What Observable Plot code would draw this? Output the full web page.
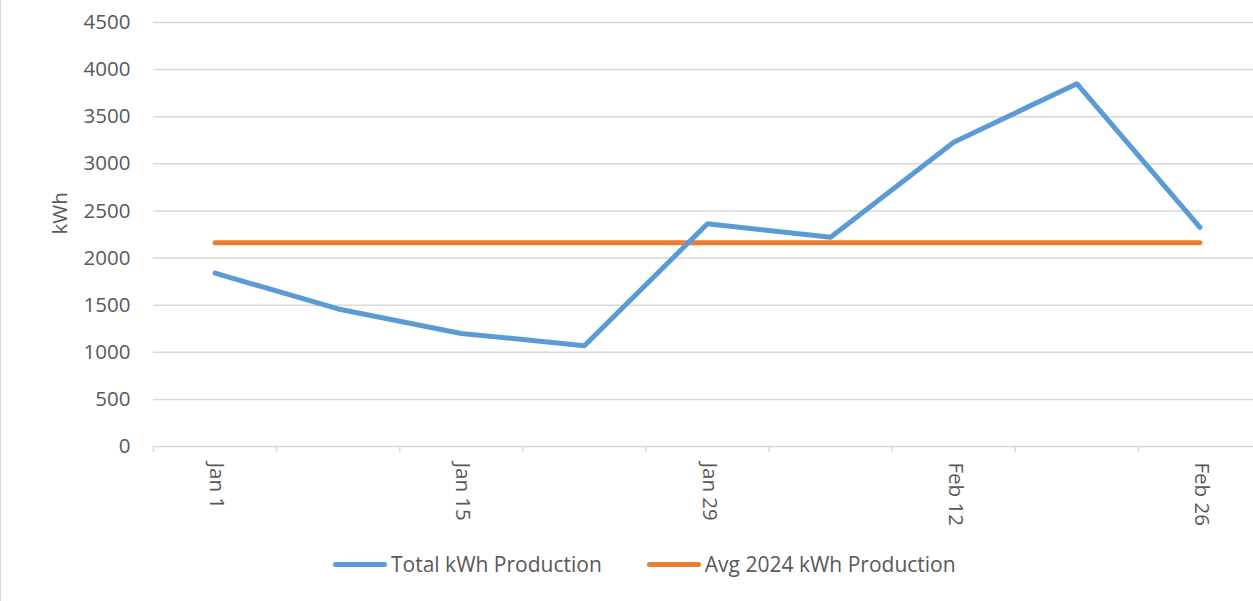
<!DOCTYPE html>
<html>
<head>
<meta charset="utf-8">
<script src="https://cdn.jsdelivr.net/npm/d3@7"></script>
<script src="https://cdn.jsdelivr.net/npm/@observablehq/plot@0.6"></script>
<style>
  html, body { margin: 0; padding: 0; background: #fff; overflow: hidden; width: 1253px; height: 601px; }
  body { position: relative; font-family: "Open Sans", sans-serif; color: #595959; }
  #border { position: absolute; left: 0; top: 0; width: 1px; height: 601px; background: #d9d9d9; }
  #chart { position: absolute; left: 0; top: 0; width: 1261px; }
  #chart svg { max-width: none !important; }
  #legend { position: absolute; left: 333px; top: 550px; display: flex; align-items: center; font-size: 21px; white-space: nowrap; }
  .item { display: flex; align-items: center; }
  .sw { width: 54px; height: 5px; border-radius: 3px; margin-right: 4px; }
</style>
</head>
<body>
<div id="border"></div>
<div id="chart"></div>
<div id="legend"></div>
<script>
const categories = ["Jan 1", "Jan 8", "Jan 15", "Jan 22", "Jan 29", "Feb 5", "Feb 12", "Feb 19", "Feb 26"];
const labelledCategories = ["Jan 1", "Jan 15", "Jan 29", "Feb 12", "Feb 26"];
const totalProduction = [1840, 1460, 1200, 1070, 2365, 2220, 3230, 3850, 2325];
const avg2024Production = [2163, 2163, 2163, 2163, 2163, 2163, 2163, 2163, 2163];
const yTicks = [0, 500, 1000, 1500, 2000, 2500, 3000, 3500, 4000, 4500];
const seriesNames = ["Total kWh Production", "Avg 2024 kWh Production"];
const seriesColors = ["#5B9BD5", "#ED7D31"];

const bounds = d3.range(categories.length + 1).map(i => i - 0.5);
const labelIdx = labelledCategories.map(c => categories.indexOf(c));
const total = totalProduction.map((v, i) => ({i, v}));
const avg = avg2024Production.map((v, i) => ({i, v}));

const chart = Plot.plot({
  width: 1261,
  height: 530,
  marginTop: 22,
  marginBottom: 84,
  marginLeft: 153,
  marginRight: 0,
  style: {fontFamily: "Open Sans, sans-serif", fontSize: "20px", color: "#595959", background: "transparent", maxWidth: "none"},
  x: {type: "linear", domain: [-0.5, categories.length - 0.5], axis: null},
  y: {domain: [0, 4500], axis: null},
  marks: [
    Plot.gridY(yTicks, {stroke: "#d9d9d9", strokeOpacity: 1, strokeWidth: 1.5}),
    Plot.axisY(yTicks, {tickSize: 0, tickPadding: 23, fontSize: 20.5, fill: "#595959", label: null, tickFormat: d => String(d)}),
    Plot.axisX(bounds, {tickSize: 6, tickFormat: () => "", stroke: "#d9d9d9", strokeWidth: 1.5, label: null}),
    Plot.text(labelIdx, {x: d => d, text: d => categories[d], frameAnchor: "bottom", rotate: 90, textAnchor: "start", dx: -5, dy: 16, fontSize: 20.5, fill: "#595959"}),
    Plot.text(["kWh"], {frameAnchor: "left", rotate: -90, dx: -93, fontSize: 20.5, fill: "#595959"}),
    Plot.line(avg, {x: "i", y: "v", stroke: seriesColors[1], strokeWidth: 5, strokeLinecap: "round", strokeLinejoin: "round"}),
    Plot.line(total, {x: "i", y: "v", stroke: seriesColors[0], strokeWidth: 5, strokeLinecap: "round", strokeLinejoin: "round"})
  ]
});
document.getElementById("chart").appendChild(chart);

const legend = document.getElementById("legend");
seriesNames.forEach((name, k) => {
  const item = document.createElement("div");
  item.className = "item";
  if (k > 0) item.style.marginLeft = "45px";
  const sw = document.createElement("div");
  sw.className = "sw";
  sw.style.background = seriesColors[k];
  const t = document.createElement("span");
  t.textContent = name;
  item.appendChild(sw);
  item.appendChild(t);
  legend.appendChild(item);
});
</script>
</body>
</html>
